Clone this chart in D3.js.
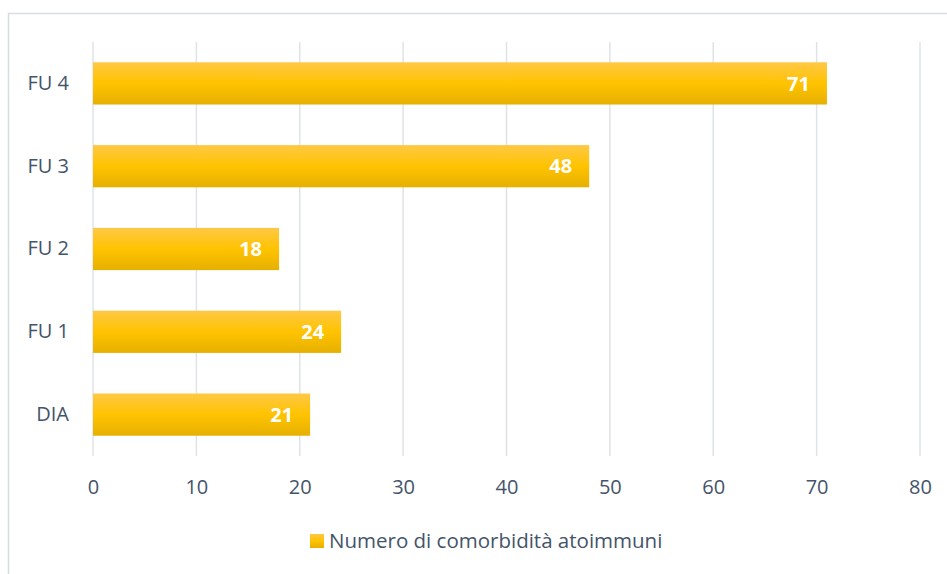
<!DOCTYPE html>
<html>
<head>
<meta charset="utf-8">
<script src="https://cdn.jsdelivr.net/npm/d3@7"></script>
<style>
  html, body { margin: 0; padding: 0; background: #fff; }
  svg { display: block; font-family: "Open Sans", "Noto Sans", sans-serif; }
</style>
</head>
<body>
<svg id="chart" width="947" height="574"></svg>
<script>
// Follow-up stages, bottom to top as drawn
const categories = ["DIA", "FU 1", "FU 2", "FU 3", "FU 4"];
const values = [21, 24, 18, 48, 71];
const xTicks = [0, 10, 20, 30, 40, 50, 60, 70, 80];
const seriesName = "Numero di comorbidità atoimmuni";

const svg = d3.select("#chart");
const W = 947, H = 574;
const margin = { left: 93, right: 27, top: 42, bottom: 118 };
const FONT = "'Open Sans', 'Noto Sans', sans-serif";
const TEXT = "#44546a";

// Chart frame
svg.append("rect")
  .attr("x", 8.5).attr("y", 13.5)
  .attr("width", W + 10).attr("height", H + 10)
  .attr("fill", "#fff").attr("stroke", "#d9dde3").attr("stroke-width", 1.5);

// Bar gradient
const defs = svg.append("defs");
const grad = defs.append("linearGradient").attr("id", "barGrad")
  .attr("x1", 0).attr("y1", 0).attr("x2", 0).attr("y2", 1);
grad.append("stop").attr("offset", "0%").attr("stop-color", "#ffc846");
grad.append("stop").attr("offset", "50%").attr("stop-color", "#ffc300");
grad.append("stop").attr("offset", "100%").attr("stop-color", "#e6b000");

const x = d3.scaleLinear().domain([0, 80]).range([margin.left, W - margin.right]);
const y = d3.scaleBand()
  .domain(categories.slice().reverse())
  .range([margin.top, H - margin.bottom])
  .paddingInner(0.49).paddingOuter(0.245);

// Vertical gridlines
svg.append("g").selectAll("line").data(xTicks).join("line")
  .attr("x1", d => x(d)).attr("x2", d => x(d))
  .attr("y1", margin.top).attr("y2", H - margin.bottom)
  .attr("stroke", "#dfe3e8").attr("stroke-width", 1.5);

// Bars
const data = categories.map((c, i) => ({ c, v: values[i] }));
svg.append("g").selectAll("rect").data(data).join("rect")
  .attr("x", x(0)).attr("y", d => y(d.c))
  .attr("width", d => x(d.v) - x(0))
  .attr("height", y.bandwidth())
  .attr("fill", "url(#barGrad)");

// Value labels inside bar ends
svg.append("g").selectAll("text").data(data).join("text")
  .attr("x", d => x(d.v) - 17)
  .attr("y", d => y(d.c) + y.bandwidth() / 2)
  .attr("dy", "0.36em")
  .attr("text-anchor", "end")
  .attr("fill", "#fff").attr("font-weight", "bold").attr("font-size", 20)
  .text(d => d.v);

// X axis labels
const xAxis = d3.axisBottom(x).tickValues(xTicks).tickSize(0).tickPadding(24);
const gx = svg.append("g").attr("transform", `translate(0,${H - margin.bottom})`).call(xAxis);
gx.select(".domain").remove();
gx.selectAll("text").attr("font-size", 20).attr("fill", TEXT).attr("font-family", FONT);

// Y axis labels
const yAxis = d3.axisLeft(y).tickSize(0).tickPadding(24);
const gy = svg.append("g").attr("transform", `translate(${margin.left},0)`).call(yAxis);
gy.select(".domain").remove();
gy.selectAll("text").attr("font-size", 20).attr("fill", TEXT).attr("font-family", FONT);

// Legend
const lg = svg.append("g").attr("transform", "translate(310,534)");
lg.append("rect").attr("width", 14).attr("height", 14).attr("fill", "url(#barGrad)");
lg.append("text").attr("x", 19).attr("y", 7).attr("dy", "0.36em")
  .attr("font-size", 20.5).attr("fill", TEXT).text(seriesName);
</script>
</body>
</html>
